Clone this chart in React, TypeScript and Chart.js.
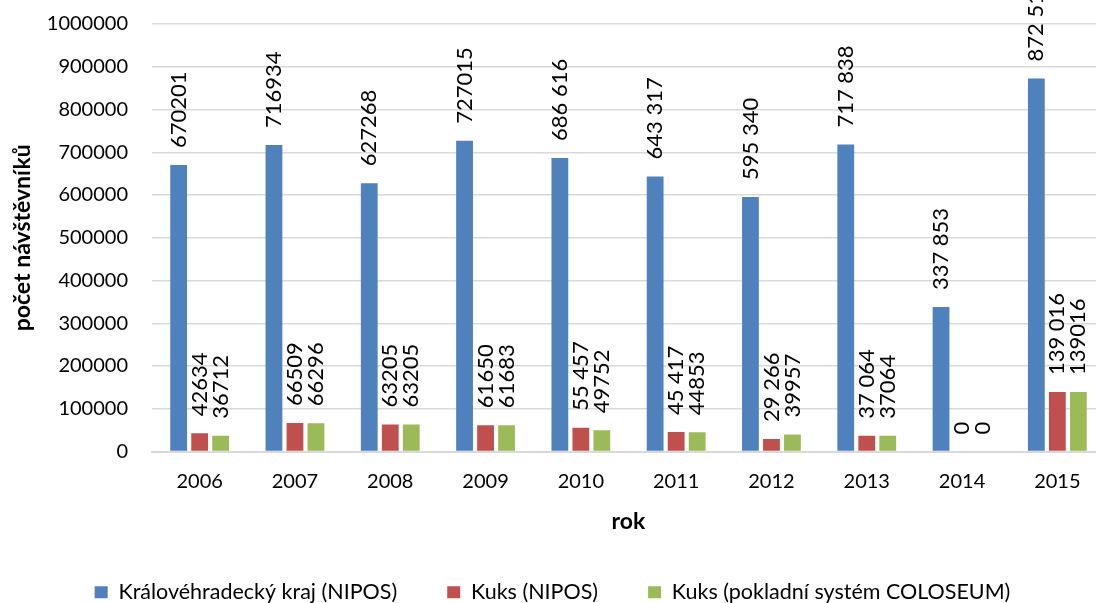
import React, { useEffect, useRef } from "react";
import { Chart, registerables } from "chart.js";

Chart.register(...registerables);

const years = ["2006", "2007", "2008", "2009", "2010", "2011", "2012", "2013", "2014", "2015"];
const seriesNames = [
  "Královéhradecký kraj (NIPOS)",
  "Kuks (NIPOS)",
  "Kuks (pokladní systém COLOSEUM)",
];
const hradeckyKraj = [670201, 716934, 627268, 727015, 686616, 643317, 595340, 717838, 337853, 872519];
const kuksNipos = [42634, 66509, 63205, 61650, 55457, 45417, 29266, 37064, 0, 139016];
const kuksColoseum = [36712, 66296, 63205, 61683, 49752, 44853, 39957, 37064, 0, 139016];
const hradeckyLabels = ["670201", "716934", "627268", "727015", "686 616", "643 317", "595 340", "717 838", "337 853", "872 519"];
const kuksNiposLabels = ["42634", "66509", "63205", "61650", "55 457", "45 417", "29 266", "37 064", "0", "139 016"];
const kuksColoseumLabels = ["36712", "66296", "63205", "61683", "49752", "44853", "39957", "37064", "0", "139016"];
const colors = ["#4f81bd", "#c0504d", "#9bbb59"];

const FONT = "Lato, 'Open Sans', sans-serif";

const labelPlugin = {
  id: "barLabels",
  afterDatasetsDraw(chart: any) {
    const ctx = chart.ctx;
    const allLabels = [hradeckyLabels, kuksNiposLabels, kuksColoseumLabels];
    ctx.save();
    ctx.font = `22px ${FONT}`;
    ctx.fillStyle = "#000";
    ctx.textAlign = "left";
    ctx.textBaseline = "middle";
    chart.data.datasets.forEach((_ds: any, di: number) => {
      const meta = chart.getDatasetMeta(di);
      meta.data.forEach((el: any, i: number) => {
        ctx.save();
        ctx.translate(el.x, el.y - 17);
        ctx.rotate(-Math.PI / 2);
        ctx.fillText(allLabels[di][i], 0, 0);
        ctx.restore();
      });
    });
    ctx.restore();
  },
};

export default function App() {
  const ref = useRef<HTMLCanvasElement>(null);
  useEffect(() => {
    if (!ref.current) return;
    const chart = new Chart(ref.current, {
      type: "bar",
      data: {
        labels: years,
        datasets: [hradeckyKraj, kuksNipos, kuksColoseum].map((d, i) => ({
          label: seriesNames[i],
          data: d,
          backgroundColor: colors[i],
          borderWidth: 0,
          categoryPercentage: 0.661,
          barPercentage: 0.8,
        })),
      },
      options: {
        responsive: false,
        animation: false,
        layout: { padding: { top: 24, right: 5, left: 0, bottom: 0 } },
        plugins: {
          tooltip: { enabled: false },
          legend: {
            position: "bottom",
            labels: {
              font: { family: FONT, size: 21.5 },
              color: "#000",
              boxWidth: 13,
              boxHeight: 12,
              padding: 50,
            },
          },
        },
        scales: {
          x: {
            grid: { display: false, drawTicks: false },
            border: { display: true, color: "#d9d9d9", width: 2 },
            ticks: { font: { family: FONT, size: 20 }, color: "#000", padding: 18 },
            title: {
              display: true,
              text: "rok",
              font: { family: FONT, size: 23, weight: "bold" },
              color: "#000",
              padding: { top: 0, bottom: -4 },
            },
            afterFit: (s: any) => {
              s.height = 80;
            },
          },
          y: {
            min: 0,
            max: 1000000,
            grid: { color: "#d9d9d9", lineWidth: 1.5, drawTicks: false },
            border: { display: false },
            ticks: {
              stepSize: 100000,
              font: { family: FONT, size: 20, lineHeight: 0 },
              color: "#000",
              padding: 24,
              callback: (v: any) => String(v),
            },
            title: {
              display: true,
              text: "počet návštěvníků",
              font: { family: FONT, size: 23, weight: "bold" },
              color: "#000",
              padding: { top: 9, bottom: 0 },
            },
            afterFit: (s: any) => {
              s.width = 152;
            },
          },
        },
      },
      plugins: [labelPlugin],
    } as any);
    return () => chart.destroy();
  }, []);
  return (
    <div style={{ position: "fixed", left: 0, top: 0, width: 1096, height: 603, overflow: "hidden", background: "#fff" }}>
      <canvas ref={ref} width={1110} height={613} style={{ display: "block" }} />
    </div>
  );
}
